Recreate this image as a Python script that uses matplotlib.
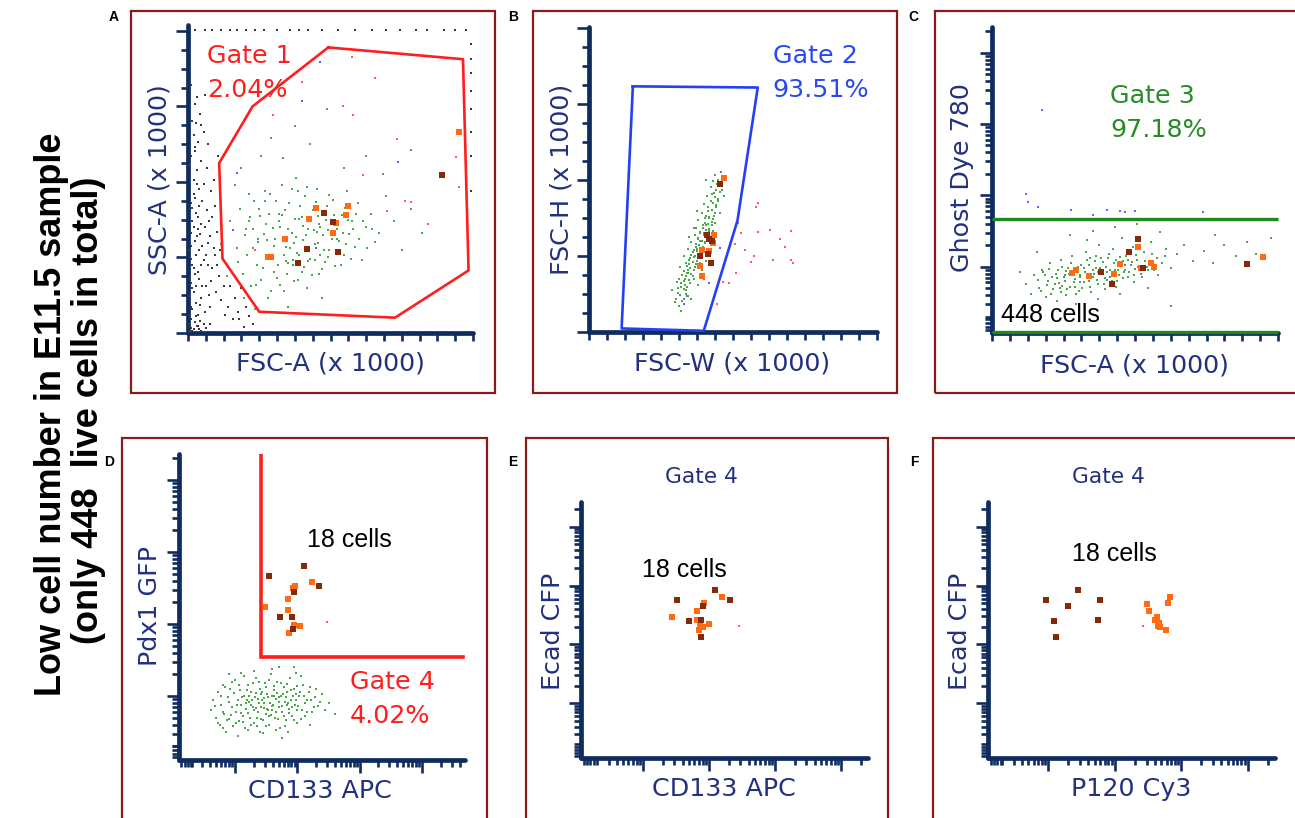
import numpy as np
import matplotlib
matplotlib.use("Agg")
import matplotlib.pyplot as plt
from matplotlib.patches import Rectangle

W, H = 1295, 818

# ---------------- data ----------------
# Panel A : FSC-A / SSC-A (x1000)
GATE1 = [(126, 242), (247, 232), (252, 53), (186, 13), (64, 18), (31, 63), (28, 144), (58, 192), (126, 242)]
ORANGE_A_X = [243, 144, 142, 115, 109, 87, 72, 75, 130, 133]
ORANGE_A_Y = [170, 108, 100, 106, 97, 80, 64, 64, 85, 93]
BROWN_A_X = [228, 122, 130, 107, 99, 135]
BROWN_A_Y = [134, 102, 94, 71, 59, 69]
GREEN_A = [(45, 60), (52, 88), (58, 72), (61, 41), (64, 105), (67, 55), (70, 92), (72, 30), (74, 118), (76, 66),
           (78, 80), (80, 47), (82, 101), (84, 125), (86, 36), (88, 73), (90, 59), (91, 110), (93, 85), (95, 44),
           (97, 131), (98, 68), (100, 97), (102, 52), (103, 79), (105, 116), (107, 38), (108, 88), (110, 63), (112, 104),
           (114, 75), (116, 122), (118, 50), (119, 90), (121, 83), (123, 60), (125, 108), (127, 70), (128, 96), (130, 113),
           (132, 57), (134, 88), (136, 78), (138, 100), (140, 66), (143, 120), (145, 84), (147, 95), (150, 73), (153, 110),
           (156, 62), (160, 90), (164, 101), (168, 77), (172, 85), (178, 116), (185, 95), (192, 70), (200, 105), (38, 95),
           (42, 125), (48, 140), (55, 118), (66, 150), (75, 165), (85, 148), (96, 175), (110, 160), (125, 190), (140, 140),
           (160, 150), (175, 135), (200, 155), (210, 85), (30, 75), (35, 48), (50, 30), (60, 20), (90, 22), (120, 30),
           (56, 98), (63, 80), (69, 112), (77, 52), (83, 90), (94, 62), (99, 120), (106, 72), (117, 99), (126, 87),
           (44, 72), (47, 105), (49, 50), (51, 83), (53, 66), (55, 95), (57, 40), (59, 112), (62, 58), (63, 77),
           (65, 99), (66, 45), (68, 84), (69, 120), (71, 63), (73, 101), (75, 36), (76, 89), (77, 74), (79, 112),
           (81, 58), (82, 95), (83, 41), (85, 79), (86, 66), (87, 104), (89, 50), (90, 88), (92, 72), (93, 122),
           (94, 58), (96, 97), (97, 81), (99, 45), (100, 66), (101, 108), (103, 91), (104, 56), (106, 83), (107, 124),
           (109, 70), (110, 98), (111, 49), (113, 87), (114, 62), (115, 111), (117, 76), (118, 92), (120, 54), (121, 103),
           (122, 70), (124, 96), (126, 64), (127, 117), (129, 80), (131, 100), (133, 68), (135, 93), (137, 58), (139, 85),
           (141, 106), (142, 75), (144, 96), (146, 63), (148, 88), (151, 101), (154, 80), (157, 95), (161, 72), (165, 88),
           (58, 88), (71, 79), (84, 100), (88, 61), (95, 76), (102, 98), (108, 61), (116, 86), (119, 66), (134, 80)]
BLACK_A = [(2, 5), (3, 12), (4, 20), (2, 28), (5, 35), (3, 42), (6, 50), (4, 58), (7, 66), (3, 74),
           (8, 82), (5, 90), (9, 98), (4, 106), (6, 114), (10, 122), (5, 130), (8, 138), (12, 146), (6, 154),
           (9, 162), (14, 170), (7, 178), (11, 186), (6, 194), (15, 202), (9, 52), (12, 30), (14, 62), (16, 40),
           (18, 76), (20, 22), (22, 55), (11, 10), (15, 18), (25, 35), (28, 48), (24, 66), (30, 28), (33, 15),
           (19, 95), (26, 86), (13, 112), (21, 120), (17, 140), (27, 150), (4, 2), (8, 6), (10, 3), (14, 8),
           (36, 22), (40, 12), (45, 18), (2, 45), (3, 85), (2, 120), (7, 25), (10, 70), (12, 92), (5, 168),
           (1, 8), (2, 15), (3, 22), (1, 31), (4, 38), (2, 47), (5, 55), (3, 63), (1, 70), (6, 78),
           (2, 88), (4, 95), (7, 102), (3, 110), (5, 118), (8, 126), (2, 134), (1, 142), (3, 150), (6, 158),
           (9, 15), (11, 24), (13, 40), (10, 46), (12, 58), (16, 66), (13, 74), (11, 84), (15, 90), (17, 104),
           (19, 32), (21, 44), (18, 58), (23, 72), (20, 82), (22, 98), (24, 108), (26, 58), (29, 70), (32, 40),
           (1, 2), (2, 1), (3, 4), (5, 3), (6, 9), (7, 14), (9, 6), (12, 2), (16, 4), (20, 8),
           (7, 40), (9, 88), (10, 108), (14, 126), (4, 180), (8, 200), (12, 176), (3, 210), (18, 160), (23, 130),
           (42, 30), (48, 38), (52, 22), (55, 14), (46, 12), (58, 8), (38, 40), (50, 5)]
TOP_ROW_X = [6, 15, 22, 30, 38, 44, 52, 60, 68, 80, 92, 100, 108, 120, 135, 150, 165, 178, 190, 205, 215, 230, 240, 250]
RIGHT_COL_Y = [245, 232, 220, 205, 190, 170, 150, 120]
RED_A_X = [102, 147, 168, 76, 139, 148, 188, 243, 195, 216, 179, 241, 157, 200, 60]
RED_A_Y = [213, 234, 216, 185, 192, 185, 164, 124, 112, 92, 103, 149, 134, 111, 70]
BLUE_A_X = [119, 102, 44, 189, 115, 40]
BLUE_A_Y = [230, 197, 136, 145, 72, 87]

# Panel B : FSC-W / FSC-H (x1000)
GATE2 = [(39, 207), (150, 206), (132, 94), (102, 1), (29, 3), (39, 207)]
ORANGE_B_X = [120, 111, 107, 100, 99, 100, 110]
ORANGE_B_Y = [130, 82, 68, 69, 56, 47, 75]
BROWN_B_X = [116, 105, 107, 109, 99, 106, 108]
BROWN_B_Y = [125, 82, 78, 77, 64, 66, 58]
GREEN_B = [(76, 25), (80, 22), (84, 28), (79, 33), (86, 35), (82, 38), (88, 30), (78, 42), (85, 45), (90, 41),
           (83, 48), (88, 52), (92, 47), (81, 55), (86, 58), (94, 55), (90, 62), (96, 60), (84, 64), (92, 67),
           (98, 65), (88, 70), (95, 72), (101, 70), (91, 76), (97, 78), (103, 75), (94, 82), (99, 84), (105, 80),
           (93, 88), (101, 90), (107, 87), (97, 94), (103, 96), (109, 93), (100, 100), (106, 102), (111, 98), (102, 108),
           (108, 110), (113, 105), (105, 115), (111, 117), (115, 112), (108, 122), (114, 125), (118, 120), (112, 132),
           (117, 135), (104, 60), (99, 58), (93, 45), (87, 50), (95, 88), (110, 85), (89, 80), (100, 52), (106, 70),
           (112, 92), (80, 45), (74, 35), (82, 18), (91, 28), (97, 40), (102, 45), (96, 102), (120, 115), (116, 100),
           (104, 128), (85, 40), (89, 57), (93, 63), (96, 70), (99, 77), (102, 83), (104, 90), (107, 96),
           (77, 28), (83, 26), (81, 31), (86, 32), (79, 37), (84, 36), (87, 38), (82, 41), (89, 44), (84, 43),
           (86, 47), (91, 49), (88, 50), (84, 51), (93, 52), (90, 54), (87, 56), (95, 57), (92, 59), (89, 61),
           (97, 62), (94, 64), (91, 65), (99, 66), (96, 68), (93, 69), (101, 72), (98, 73), (95, 74), (103, 76),
           (100, 77), (97, 79), (105, 81), (102, 82), (99, 83), (107, 85), (104, 86), (101, 88), (109, 90), (106, 91),
           (103, 92), (110, 95), (107, 97), (104, 98), (112, 100), (109, 103), (106, 105), (113, 107), (110, 109), (115, 110),
           (112, 114), (109, 116), (116, 118), (113, 120), (118, 124), (115, 128), (110, 127), (120, 130)]
RED_B_X = [150, 148, 132, 135, 150, 161, 170, 180, 130, 139, 147, 164, 174, 180, 181, 144, 131, 119, 114, 124]
RED_B_Y = [109, 105, 92, 83, 84, 86, 78, 85, 74, 69, 64, 61, 72, 61, 58, 59, 50, 42, 24, 41]
BLUE_B_X = [110, 116, 107, 84, 87]
BLUE_B_Y = [109, 71, 41, 24, 30]

# Panel C : FSC-A (x1000) / Ghost Dye 780 (log10)
GATE3_Y = [2.67, 1.09]
ORANGE_C_X = [72, 75, 87, 109, 115, 131, 133, 142, 145, 243]
ORANGE_C_Y = [1.91, 1.96, 1.87, 1.90, 2.04, 2.28, 1.98, 2.05, 2.00, 2.14]
BROWN_C_X = [98, 107, 123, 131, 135, 228]
BROWN_C_Y = [1.93, 1.76, 2.21, 2.39, 1.98, 2.04]
GREEN_C = [(30, 1.75), (35, 1.62), (38, 1.88), (42, 1.70), (45, 1.95), (48, 1.58), (50, 1.80), (52, 2.05), (55, 1.68), (57, 1.90),
           (60, 1.77), (62, 2.10), (64, 1.85), (66, 1.60), (68, 1.98), (70, 1.72), (72, 2.15), (74, 1.83), (76, 1.93), (78, 1.66),
           (80, 2.02), (82, 1.78), (84, 2.20), (86, 1.88), (88, 1.71), (90, 1.96), (92, 2.08), (94, 1.82), (96, 2.30), (98, 1.90),
           (100, 1.75), (102, 2.00), (104, 2.12), (106, 1.86), (108, 2.25), (110, 1.95), (112, 1.80), (114, 2.05), (116, 2.40), (118, 1.92),
           (120, 2.15), (122, 1.85), (124, 2.02), (126, 2.28), (128, 1.97), (130, 2.10), (133, 1.90), (136, 2.20), (139, 2.00), (142, 2.35),
           (145, 1.95), (148, 2.12), (152, 2.05), (156, 2.25), (160, 1.98), (166, 2.18), (172, 2.30), (180, 2.08), (190, 2.22), (198, 2.05),
           (208, 2.30), (218, 2.15), (228, 2.35), (236, 2.18), (250, 2.40), (90, 2.50), (110, 2.55), (70, 2.45), (130, 2.60), (150, 2.48),
           (58, 1.52), (75, 1.48), (95, 1.55), (115, 1.62), (140, 1.70), (160, 1.45), (200, 2.45), (40, 2.20), (25, 1.92), (85, 2.38),
           (65, 1.88), (79, 1.85), (93, 1.98), (101, 1.84), (117, 2.08), (127, 1.88), (62, 1.65), (88, 2.12),
           (41, 1.82), (44, 1.66), (46, 1.92), (49, 1.74), (51, 1.97), (53, 1.62), (54, 1.85), (56, 1.76), (59, 1.95), (61, 1.70),
           (63, 2.00), (65, 1.80), (67, 1.68), (69, 1.90), (71, 2.05), (73, 1.78), (75, 1.62), (77, 1.99), (79, 1.88), (81, 1.70),
           (83, 1.93), (85, 2.10), (87, 1.80), (89, 1.64), (91, 1.90), (93, 2.15), (95, 1.75), (97, 1.98), (99, 2.06), (101, 1.69),
           (103, 1.92), (105, 2.18), (107, 1.80), (109, 2.05), (111, 1.72), (113, 1.96), (115, 2.14), (117, 1.84), (119, 2.02), (121, 2.22),
           (123, 1.93), (125, 2.06), (127, 1.79), (129, 2.16), (131, 2.00), (134, 1.86), (137, 2.08), (140, 1.95), (143, 2.18), (146, 2.02),
           (149, 1.88), (58, 1.84), (66, 1.94), (74, 1.72), (82, 1.98), (90, 1.85), (98, 2.12), (106, 1.96), (114, 1.88), (122, 2.10),
           (47, 1.88), (63, 1.73), (79, 1.79), (87, 2.02), (95, 1.92), (103, 1.82), (111, 2.10), (119, 1.95), (135, 1.98), (155, 2.15)]
BLUE_C_X = [45, 30, 32, 41, 71, 90, 103, 115, 119, 128, 189]
BLUE_C_Y = [4.20, 3.02, 2.91, 2.83, 2.80, 2.73, 2.80, 2.78, 2.77, 2.78, 2.77]

# Panel D : CD133 APC / Pdx1 GFP (log10)
GATE4_X = [2.42, 2.42, 5.66]
GATE4_Y = [5.35, 2.54, 2.54]
ORANGE_D_X = [2.48, 3.23, 2.96, 2.93, 2.85, 2.85, 2.94, 3.04, 2.87]
ORANGE_D_Y = [3.23, 3.58, 3.53, 3.50, 3.35, 3.20, 2.99, 2.97, 2.88]
BROWN_D_X = [2.55, 3.11, 3.35, 2.95, 2.72, 2.91, 2.93]
BROWN_D_Y = [3.67, 3.81, 3.53, 3.45, 3.10, 3.10, 2.93]
GREEN_D = [(1.62, 1.80), (1.65, 1.95), (1.70, 1.70), (1.72, 2.05), (1.75, 1.60), (1.78, 1.88), (1.80, 2.15), (1.83, 1.75), (1.85, 1.50), (1.88, 1.98),
           (1.90, 1.68), (1.92, 2.10), (1.95, 1.85), (1.97, 1.58), (2.00, 2.22), (2.02, 1.78), (2.04, 1.95), (2.06, 1.65), (2.08, 2.08), (2.10, 1.88),
           (2.12, 1.72), (2.14, 2.00), (2.16, 1.55), (2.18, 1.82), (2.20, 2.15), (2.22, 1.92), (2.24, 1.70), (2.26, 2.05), (2.28, 1.85), (2.30, 1.62),
           (2.32, 1.98), (2.34, 2.25), (2.36, 1.78), (2.38, 1.90), (2.40, 2.10), (2.42, 1.68), (2.44, 1.95), (2.46, 1.83), (2.48, 2.18), (2.50, 1.75),
           (2.52, 2.02), (2.54, 1.60), (2.56, 1.90), (2.58, 2.30), (2.60, 1.80), (2.62, 2.08), (2.64, 1.70), (2.66, 1.96), (2.68, 2.20), (2.70, 1.85),
           (2.72, 1.55), (2.74, 2.00), (2.76, 1.77), (2.78, 2.12), (2.80, 1.92), (2.82, 1.66), (2.84, 2.05), (2.86, 1.82), (2.88, 2.25), (2.90, 1.95),
           (2.92, 1.72), (2.94, 2.10), (2.96, 1.88), (2.98, 2.32), (3.00, 1.80), (3.03, 2.00), (3.06, 1.68), (3.09, 2.15), (3.12, 1.90), (3.15, 1.78),
           (3.18, 2.05), (3.22, 1.95), (3.26, 1.85), (3.30, 2.10), (3.36, 1.92), (3.45, 1.80), (3.60, 1.75), (2.05, 1.45), (2.45, 1.48), (2.75, 1.42),
           (2.25, 1.88), (2.55, 1.72), (2.35, 1.58), (2.65, 1.52), (2.15, 2.28), (2.85, 1.50), (1.90, 2.30), (3.05, 2.28), (2.30, 2.35), (2.70, 2.40),
           (2.33, 1.83), (2.47, 1.97), (2.59, 1.86), (2.71, 1.98), (2.83, 1.88), (2.41, 2.02), (2.63, 2.00), (2.19, 1.95), (2.97, 2.03), (2.53, 1.80),
           (1.68, 1.86), (1.73, 1.63), (1.77, 2.00), (1.81, 1.78), (1.84, 2.12), (1.87, 1.66), (1.91, 1.92), (1.94, 1.74), (1.98, 2.04), (2.01, 1.62),
           (2.03, 1.88), (2.07, 2.15), (2.09, 1.76), (2.11, 1.98), (2.13, 1.64), (2.17, 1.90), (2.19, 2.08), (2.21, 1.76), (2.23, 2.00), (2.25, 1.60),
           (2.27, 1.94), (2.29, 2.18), (2.31, 1.80), (2.33, 2.04), (2.35, 1.70), (2.37, 1.96), (2.39, 2.20), (2.41, 1.84), (2.43, 2.06), (2.45, 1.66),
           (2.47, 1.90), (2.49, 2.12), (2.51, 1.82), (2.53, 1.98), (2.55, 2.22), (2.57, 1.74), (2.59, 2.00), (2.61, 1.88), (2.63, 2.14), (2.65, 1.78),
           (2.67, 2.04), (2.69, 1.68), (2.71, 1.92), (2.73, 2.18), (2.75, 1.86), (2.77, 2.02), (2.79, 1.72), (2.81, 1.98), (2.83, 2.16), (2.85, 1.90),
           (2.87, 1.76), (2.89, 2.08), (2.91, 1.84), (2.93, 2.00), (2.95, 1.66), (2.97, 1.94), (2.99, 2.14), (3.01, 1.86), (3.04, 2.06), (3.07, 1.80),
           (3.10, 2.00), (3.13, 1.72), (3.16, 1.94), (3.20, 2.12), (3.24, 1.78), (3.28, 1.98), (3.33, 1.86), (3.40, 2.02), (3.50, 1.90), (1.95, 2.20),
           (2.20, 1.52), (2.50, 1.58), (2.80, 1.58), (3.00, 1.62), (2.10, 2.32), (2.60, 2.38), (2.40, 1.50), (1.80, 1.55), (3.20, 1.60), (2.95, 2.40)]
RED_D = (3.47, 3.03)

# Panels E / F : gate 4 cells, Ecad CFP (log10) vs CD133 APC / P120 Cy3 (log10)
ECAD_BROWN = [3.75, 3.93, 3.75, 3.66, 3.39, 3.41, 3.12]
ECAD_ORANGE = [3.47, 3.56, 3.81, 3.71, 3.41, 3.34, 3.25, 3.29, 3.34, 3.31]
CD133_BROWN = [2.52, 3.09, 3.32, 2.91, 2.70, 2.88, 2.88]
CD133_ORANGE = [2.44, 2.82, 3.20, 2.92, 2.82, 2.86, 2.85, 2.91, 3.00, 2.86]
P120_BROWN = [1.97, 2.45, 2.77, 2.29, 2.08, 2.74, 2.11]
P120_ORANGE = [3.48, 3.52, 3.80, 3.83, 3.64, 3.61, 3.67, 3.68, 3.77, 3.65]
ECAD_ORANGE_F = [3.68, 3.56, 3.71, 3.81, 3.47, 3.41, 3.36, 3.29, 3.25, 3.31]
RED_E = (3.45, 3.31)
RED_F = (3.42, 3.31)

# ---------------- styles ----------------
NAVY = "#0F2C5E"
LABEL = "#22307E"
FRAME = "#8A1A17"
ORANGE = "#FF6A12"
BROWN = "#85290B"
GREEN = "#4AA84A"
RED = "#FF1E1E"
BLUE = "#2440F5"
GGREEN = "#1C8A1C"


def fx(px):
    return px / W


def fy(py):
    return 1 - py / H


def make_axes(left, top, right, bottom):
    ax = fig.add_axes([fx(left), fy(bottom), (right - left) / W, (bottom - top) / H])
    ax.patch.set_alpha(0)
    for s in ("top", "right"):
        ax.spines[s].set_visible(False)
    for s in ("left", "bottom"):
        ax.spines[s].set_color(NAVY)
        ax.spines[s].set_linewidth(3.4)
        ax.spines[s].set_capstyle("round")
    ax.tick_params(which="both", direction="out", color=NAVY, width=1.9,
                   labelbottom=False, labelleft=False)
    ax.tick_params(which="major", length=9)
    ax.tick_params(which="minor", length=5)
    return ax


def lin_ticks(ax, axis, top):
    major = np.arange(0, top + 1, 64)
    minor = np.arange(0, top + 1, 16)
    if axis == "x":
        ax.set_xticks(major)
        ax.set_xticks(minor, minor=True)
        ax.tick_params(axis="x", which="both", length=6)
    else:
        ax.set_yticks(major)
        ax.set_yticks(minor, minor=True)


def log_ticks(ax, axis, lo, hi):
    major = [d for d in range(0, 7) if lo <= d <= hi]
    minor = [d + np.log10(k) for d in range(0, 7) for k in range(2, 10)
             if lo <= d + np.log10(k) <= hi]
    # compressed region at the low end of the biexponential scale
    minor += list(np.arange(lo + 0.04, lo + 0.24, 0.05))
    if axis == "x":
        ax.set_xticks(major)
        ax.set_xticks(minor, minor=True)
    else:
        ax.set_yticks(major)
        ax.set_yticks(minor, minor=True)


def squares(ax, x, y, color, s=20):
    ax.scatter(x, y, s=s, marker="s", color=color, linewidths=0, zorder=5, clip_on=False)


def dots(ax, pts, color, s=2.4):
    pts = np.array(pts, dtype=float)
    ax.scatter(pts[:, 0], pts[:, 1], s=s, marker="s", color=color, linewidths=0, zorder=3)


def ftext(s, x, y, color=LABEL, size=18.3, rot=0, ha="center", va="center", family="DejaVu Sans", weight="normal"):
    fig.text(fx(x), fy(y), s, color=color, fontsize=size, rotation=rot, ha=ha, va=va,
             family=family, fontweight=weight)


fig = plt.figure(figsize=(W / 100, H / 100), dpi=100)
fig.patch.set_facecolor("white")

# panel frames
for l, t, r, b in [(131, 11, 495, 393), (533, 11, 897, 393), (935, 11, 1310, 393),
                   (122, 438, 487, 840), (526, 438, 888, 840), (933, 438, 1310, 840)]:
    fig.add_artist(Rectangle((fx(l), fy(b)), (r - l) / W, (b - t) / H, transform=fig.transFigure,
                             fill=False, edgecolor=FRAME, linewidth=1.6))

# ---- A ----
ax = make_axes(188, 25, 473, 333)
ax.set_xlim(0, 256)
ax.set_ylim(0, 261)
lin_ticks(ax, "x", 256)
lin_ticks(ax, "y", 256)
dots(ax, BLACK_A, "#3a3a3a", s=1.8)
ax.scatter(TOP_ROW_X, [257] * len(TOP_ROW_X), s=1.8, marker="s", color="#3a3a3a", linewidths=0)
ax.scatter([254] * len(RIGHT_COL_Y), RIGHT_COL_Y, s=1.8, marker="s", color="#3a3a3a", linewidths=0)
dots(ax, GREEN_A, GREEN)
ax.scatter(RED_A_X, RED_A_Y, s=2, marker="s", color="#FF5A5A", linewidths=0)
ax.scatter(BLUE_A_X, BLUE_A_Y, s=2, marker="s", color="#5A5AFF", linewidths=0)
g = np.array(GATE1)
ax.plot(g[:, 0], g[:, 1], color=RED, lw=1.9, zorder=4)
squares(ax, ORANGE_A_X, ORANGE_A_Y, ORANGE, s=24)
squares(ax, BROWN_A_X, BROWN_A_Y, BROWN, s=24)
ftext("Gate 1", 207, 63, color=RED, ha="left", va="baseline")
ftext("2.04%", 207, 97, color=RED, ha="left", va="baseline")
ftext("FSC-A (x 1000)", 330, 364)
ftext("SSC-A (x 1000)", 160, 180, rot=90)

# ---- B ----
ax = make_axes(589, 27, 877, 332)
ax.set_xlim(0, 256)
ax.set_ylim(0, 257)
lin_ticks(ax, "x", 256)
lin_ticks(ax, "y", 256)
dots(ax, GREEN_B, GREEN)
ax.scatter(RED_B_X, RED_B_Y, s=2, marker="s", color="#FF5A5A", linewidths=0)
ax.scatter(BLUE_B_X, BLUE_B_Y, s=2, marker="s", color="#5A5AFF", linewidths=0)
g = np.array(GATE2)
ax.plot(g[:, 0], g[:, 1], color=BLUE, lw=1.9, zorder=4)
squares(ax, ORANGE_B_X, ORANGE_B_Y, ORANGE, s=24)
squares(ax, BROWN_B_X, BROWN_B_Y, BROWN, s=24)
ftext("Gate 2", 773, 63, color="#2B48EE", ha="left", va="baseline")
ftext("93.51%", 772, 97, color="#2B48EE", ha="left", va="baseline")
ftext("FSC-W (x 1000)", 732, 364)
ftext("FSC-H (x 1000)", 562, 179, rot=90)

# ---- C ----
ax = make_axes(992, 27, 1278, 333)
ax.set_xlim(0, 256)
ax.set_ylim(1.07, 5.36)
lin_ticks(ax, "x", 256)
log_ticks(ax, "y", 1.07, 5.36)
dots(ax, GREEN_C, GREEN)
ax.scatter(BLUE_C_X, BLUE_C_Y, s=2, marker="s", color="#6A6AFF", linewidths=0)
for yv in GATE3_Y:
    ax.plot([0, 256], [yv, yv], color=GGREEN, lw=2.4, zorder=6, clip_on=False, solid_capstyle="butt")
squares(ax, ORANGE_C_X, ORANGE_C_Y, ORANGE, s=22)
squares(ax, BROWN_C_X, BROWN_C_Y, BROWN, s=22)
ftext("Gate 3", 1110, 103, color="#268C26", ha="left", va="baseline")
ftext("97.18%", 1110, 137, color="#268C26", ha="left", va="baseline")
ftext("448 cells", 1001, 322, color="black", size=18, ha="left", va="baseline", family="Liberation Sans")
ftext("FSC-A (x 1000)", 1134, 365)
ftext("Ghost Dye 780", 962, 178, rot=90)

# ---- D ----
ax = make_axes(179, 454, 465, 760)
ax.set_xlim(1.10, 5.69)
ax.set_ylim(1.11, 5.36)
log_ticks(ax, "x", 1.10, 5.69)
log_ticks(ax, "y", 1.11, 5.36)
dots(ax, GREEN_D, GREEN, s=2)
ax.scatter(*RED_D, s=2, marker="s", color="#FF5A5A", linewidths=0)
ax.plot(GATE4_X, GATE4_Y, color=RED, lw=2.6, zorder=4, solid_joinstyle="miter")
squares(ax, ORANGE_D_X, ORANGE_D_Y, ORANGE, s=16)
squares(ax, BROWN_D_X, BROWN_D_Y, BROWN, s=16)
ftext("18 cells", 307, 547, color="black", size=18, ha="left", va="baseline", family="Liberation Sans")
ftext("Gate 4", 350, 689, color=RED, ha="left", va="baseline")
ftext("4.02%", 350, 723, color=RED, ha="left", va="baseline")
ftext("CD133 APC", 320, 791)
ftext("Pdx1 GFP", 150, 606, rot=90)

# ---- E ----
ax = make_axes(581, 502, 868, 758)
ax.set_xlim(1.06, 5.41)
ax.set_ylim(1.07, 5.42)
log_ticks(ax, "x", 1.06, 5.41)
log_ticks(ax, "y", 1.07, 5.42)
ax.scatter(*RED_E, s=2, marker="s", color="#FF5A5A", linewidths=0)
squares(ax, CD133_ORANGE, ECAD_ORANGE, ORANGE, s=16)
squares(ax, CD133_BROWN, ECAD_BROWN, BROWN, s=16)
ftext("Gate 4", 701, 483, size=15.7, va="baseline")
ftext("18 cells", 642, 577, color="black", size=18, ha="left", va="baseline", family="Liberation Sans")
ftext("CD133 APC", 724, 789)
ftext("Ecad CFP", 553, 631, rot=90)

# ---- F ----
ax = make_axes(988, 502, 1275, 758)
ax.set_xlim(1.09, 5.41)
ax.set_ylim(1.07, 5.42)
log_ticks(ax, "x", 1.09, 5.41)
log_ticks(ax, "y", 1.07, 5.42)
ax.scatter(*RED_F, s=2, marker="s", color="#FF5A5A", linewidths=0)
squares(ax, P120_ORANGE, ECAD_ORANGE_F, ORANGE, s=16)
squares(ax, P120_BROWN, ECAD_BROWN, BROWN, s=16)
ftext("Gate 4", 1108, 483, size=15.7, va="baseline")
ftext("18 cells", 1072, 561, color="black", size=18, ha="left", va="baseline", family="Liberation Sans")
ftext("P120 Cy3", 1131, 789)
ftext("Ecad CFP", 960, 631, rot=90)

# panel letters
for letter, x, y in [("A", 114, 17), ("B", 513, 17), ("C", 913, 17),
                     ("D", 109, 462), ("E", 513, 462), ("F", 914, 462)]:
    ftext(letter, x, y, color="black", size=10, family="Liberation Sans", weight="bold")

# side title
ftext("Low cell number in E11.5 sample", 52, 414, color="black", size=26, rot=90,
      family="Liberation Sans", weight="bold")
ftext("(only 448  live cells in total)", 88, 410, color="black", size=26, rot=90,
      family="Liberation Sans", weight="bold")

fig.savefig("out.png", dpi=100, facecolor="white")
